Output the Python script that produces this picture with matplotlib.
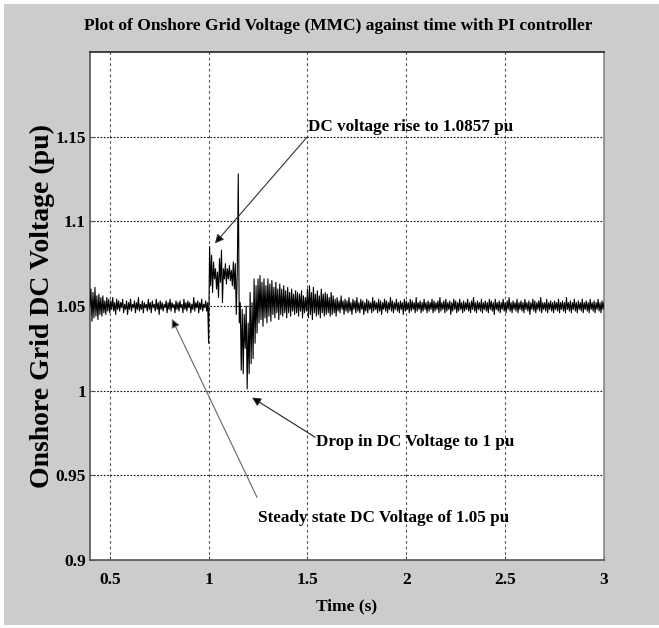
import numpy as np
import matplotlib
matplotlib.use("Agg")
import matplotlib.pyplot as plt
from matplotlib.patches import Rectangle

# ---------------- data ----------------
# pre-fault segment: t = 0.400 .. 0.995, step 0.005
t_pre_start, t_pre_step = 0.40, 0.005
v_pre = [1.050, 1.060, 1.041, 1.058, 1.043, 1.061, 1.044, 1.056, 1.042, 1.057,
         1.045, 1.055, 1.044, 1.056, 1.046, 1.053, 1.045, 1.055, 1.047, 1.054,
         1.046, 1.053, 1.048, 1.055, 1.047, 1.052, 1.045, 1.054, 1.048, 1.053,
         1.047, 1.052, 1.049, 1.054, 1.046, 1.051, 1.048, 1.053, 1.045, 1.052,
         1.048, 1.054, 1.047, 1.051, 1.049, 1.053, 1.046, 1.052, 1.048, 1.055,
         1.047, 1.051, 1.048, 1.053, 1.046, 1.052, 1.049, 1.051, 1.047, 1.054,
         1.048, 1.052, 1.046, 1.053, 1.049, 1.051, 1.047, 1.054, 1.048, 1.052,
         1.045, 1.053, 1.048, 1.052, 1.047, 1.051, 1.049, 1.053, 1.046, 1.052,
         1.048, 1.054, 1.047, 1.052, 1.049, 1.051, 1.046, 1.053, 1.048, 1.052,
         1.047, 1.053, 1.049, 1.051, 1.046, 1.054, 1.048, 1.052, 1.047, 1.053,
         1.049, 1.052, 1.046, 1.051, 1.048, 1.055, 1.047, 1.052, 1.049, 1.053,
         1.046, 1.052, 1.048, 1.054, 1.047, 1.051, 1.049, 1.053, 1.047, 1.052]

# fault / transient segment: t = 1.000 .. 1.495, step 0.005
t_fault_start, t_fault_step = 1.000, 0.005
v_fault = [1.028, 1.085, 1.062, 1.080, 1.058, 1.076, 1.066, 1.072, 1.060, 1.070,
           1.055, 1.078, 1.064, 1.083, 1.052, 1.072, 1.066, 1.075, 1.063, 1.072,
           1.066, 1.074, 1.065, 1.071, 1.062, 1.076, 1.060, 1.075, 1.045, 1.070,
           1.128, 1.040, 1.052, 1.012, 1.048, 1.010, 1.045, 1.025, 1.050, 1.001,
           1.040, 1.010, 1.058, 1.016, 1.052, 1.019, 1.066, 1.028, 1.062, 1.034,
           1.066, 1.040, 1.068, 1.042, 1.064, 1.038, 1.066, 1.043, 1.062, 1.040,
           1.066, 1.044, 1.063, 1.041, 1.065, 1.045, 1.061, 1.043, 1.064, 1.046,
           1.060, 1.042, 1.063, 1.045, 1.060, 1.044, 1.062, 1.046, 1.059, 1.043,
           1.061, 1.046, 1.058, 1.044, 1.060, 1.047, 1.057, 1.045, 1.059, 1.046,
           1.058, 1.044, 1.057, 1.047, 1.059, 1.043, 1.056, 1.046, 1.055, 1.047]

# post-fault steady segment: t = 1.500 .. 3.000, step 0.005
t_post_start, t_post_step = 1.50, 0.005
v_post = [1.060, 1.043, 1.062, 1.045, 1.058, 1.042, 1.061, 1.046, 1.057, 1.044,
          1.059, 1.045, 1.056, 1.043, 1.060, 1.046, 1.057, 1.044, 1.058, 1.045,
          1.057, 1.046, 1.055, 1.044, 1.058, 1.045, 1.056, 1.046, 1.054, 1.044,
          1.055, 1.047, 1.053, 1.046, 1.056, 1.048, 1.053, 1.045, 1.054, 1.047,
          1.053, 1.046, 1.055, 1.047, 1.052, 1.045, 1.054, 1.048, 1.053, 1.046,
          1.055, 1.047, 1.052, 1.046, 1.054, 1.048, 1.053, 1.045, 1.052, 1.047,
          1.054, 1.046, 1.053, 1.048, 1.052, 1.046, 1.055, 1.047, 1.053, 1.048,
          1.052, 1.046, 1.054, 1.047, 1.053, 1.045, 1.052, 1.048, 1.054, 1.047,
          1.053, 1.046, 1.052, 1.048, 1.055, 1.047, 1.053, 1.046, 1.052, 1.048,
          1.054, 1.047, 1.052, 1.046, 1.053, 1.048, 1.052, 1.045, 1.054, 1.047,
          1.053, 1.048, 1.052, 1.046, 1.054, 1.047, 1.053, 1.048, 1.052, 1.046,
          1.055, 1.047, 1.052, 1.048, 1.053, 1.046, 1.052, 1.047, 1.054, 1.048,
          1.052, 1.046, 1.053, 1.047, 1.052, 1.048, 1.054, 1.046, 1.053, 1.047,
          1.052, 1.048, 1.053, 1.046, 1.055, 1.047, 1.052, 1.048, 1.053, 1.046,
          1.054, 1.047, 1.052, 1.048, 1.053, 1.045, 1.052, 1.047, 1.054, 1.048,
          1.053, 1.046, 1.052, 1.047, 1.054, 1.048, 1.052, 1.046, 1.053, 1.047,
          1.052, 1.048, 1.054, 1.047, 1.052, 1.046, 1.053, 1.048, 1.055, 1.047,
          1.052, 1.046, 1.053, 1.048, 1.052, 1.047, 1.054, 1.046, 1.052, 1.048,
          1.053, 1.047, 1.052, 1.046, 1.054, 1.048, 1.053, 1.047, 1.052, 1.045,
          1.054, 1.048, 1.052, 1.047, 1.053, 1.046, 1.052, 1.048, 1.054, 1.047,
          1.052, 1.046, 1.053, 1.048, 1.055, 1.047, 1.052, 1.046, 1.053, 1.048,
          1.052, 1.047, 1.054, 1.046, 1.052, 1.048, 1.053, 1.047, 1.052, 1.046,
          1.054, 1.048, 1.052, 1.047, 1.053, 1.045, 1.052, 1.048, 1.054, 1.047,
          1.053, 1.046, 1.052, 1.048, 1.053, 1.047, 1.055, 1.046, 1.052, 1.048,
          1.052, 1.047, 1.054, 1.046, 1.052, 1.048, 1.053, 1.047, 1.052, 1.046,
          1.053, 1.048, 1.052, 1.047, 1.054, 1.046, 1.052, 1.048, 1.053, 1.047,
          1.052, 1.046, 1.055, 1.048, 1.052, 1.047, 1.053, 1.046, 1.052, 1.048,
          1.054, 1.047, 1.052, 1.046, 1.053, 1.048, 1.052, 1.047, 1.054, 1.046,
          1.052, 1.048, 1.053, 1.047, 1.052, 1.046, 1.054, 1.048, 1.052, 1.047,
          1.053, 1.046, 1.052, 1.048, 1.054, 1.047, 1.052, 1.046, 1.053, 1.048,
          1.052]

x_ticks = [0.5, 1, 1.5, 2, 2.5, 3]
x_tick_labels = ["0.5", "1", "1.5", "2", "2.5", "3"]
y_ticks = [0.9, 0.95, 1.0, 1.05, 1.1, 1.15]
y_tick_labels = ["0.9", "0.95", "1", "1.05", "1.1", "1.15"]

# annotations: (text, text x, text y, arrow tail, arrow head)
ann_rise = ("DC voltage rise to 1.0857 pu", 1.503, 1.1535, (1.50, 1.150), (1.032, 1.087))
ann_drop = ("Drop in DC Voltage to 1 pu", 1.541, 0.9675, (1.539, 0.9725), (1.220, 0.9959))
ann_steady = ("Steady state DC Voltage of 1.05 pu", 1.250, 0.9225, (1.245, 0.937), (0.814, 1.0424))

# ---------------- figure ----------------
SERIF = ["Liberation Serif", "DejaVu Serif"]
fig = plt.figure(figsize=(6.59, 6.28), dpi=100, facecolor="white")
fig.patches.append(Rectangle((4 / 659, 3 / 628), 1 - 4 / 659, 1 - 7 / 628,
                             transform=fig.transFigure, facecolor="#cccccc",
                             edgecolor="none", zorder=-10))

ax = fig.add_axes([90 / 659, 1 - 560 / 628, 514 / 659, 508 / 628])
ax.set_facecolor("white")

t_pre = t_pre_start + t_pre_step * np.arange(len(v_pre))
t_fault = t_fault_start + t_fault_step * np.arange(len(v_fault))
t_post = t_post_start + t_post_step * np.arange(len(v_post))
t_all = np.concatenate([t_pre, t_fault, t_post])
v_all = np.concatenate([v_pre, v_fault, v_post])

ax.plot(t_all, v_all, color="black", lw=0.8, zorder=3)

ax.set_xlim(0.4, 3.0)
ax.set_ylim(0.9, 1.2)
ax.set_xticks(x_ticks)
ax.set_xticklabels(x_tick_labels, fontfamily=SERIF, fontweight="bold", fontsize=12.5)
ax.set_yticks(y_ticks)
ax.set_yticklabels(y_tick_labels, fontfamily=SERIF, fontweight="bold", fontsize=12.5)
ax.tick_params(direction="in", length=3, color="#555555")
ax.tick_params(axis="x", pad=9)
ax.tick_params(axis="y", pad=3)

ax.xaxis.grid(True, color="#555555", linestyle=(0, (2.5, 2.5)), lw=0.8)
ax.yaxis.grid(True, color="#111111", linestyle=(0, (1.5, 1.5)), lw=0.8)
ax.set_axisbelow(True)

for side, col in [("top", "#222222"), ("left", "#555555"),
                  ("bottom", "#555555"), ("right", "#888888")]:
    ax.spines[side].set_color(col)
    ax.spines[side].set_linewidth(1.2)

fig.text(0.513, 1 - 26 / 628, "Plot of Onshore Grid Voltage (MMC) against time with PI controller",
         ha="center", va="center", fontfamily=SERIF, fontweight="bold", fontsize=12.5)
ax.set_xlabel("Time (s)", fontfamily=SERIF, fontweight="bold", fontsize=12.5, labelpad=7)
ax.set_ylabel("Onshore Grid DC Voltage (pu)", fontfamily=SERIF, fontweight="bold",
              fontsize=20, labelpad=0)

arrow_cols = {"rise": "#333333", "drop": "#222222", "steady": "#666666"}
for key, (txt, tx, ty, tail, head) in [("rise", ann_rise), ("drop", ann_drop),
                                        ("steady", ann_steady)]:
    ax.text(tx, ty, txt, ha="left", va="baseline", fontfamily=SERIF,
            fontweight="bold", fontsize=12.3, zorder=5)
    ax.annotate("", xy=head, xytext=tail,
                arrowprops=dict(arrowstyle="-|>", color=arrow_cols[key], lw=0.8,
                                mutation_scale=13, shrinkA=0, shrinkB=0,
                                fc="black", ec=arrow_cols[key]), zorder=4)

fig.savefig("out.png", dpi=100, facecolor=fig.get_facecolor())
